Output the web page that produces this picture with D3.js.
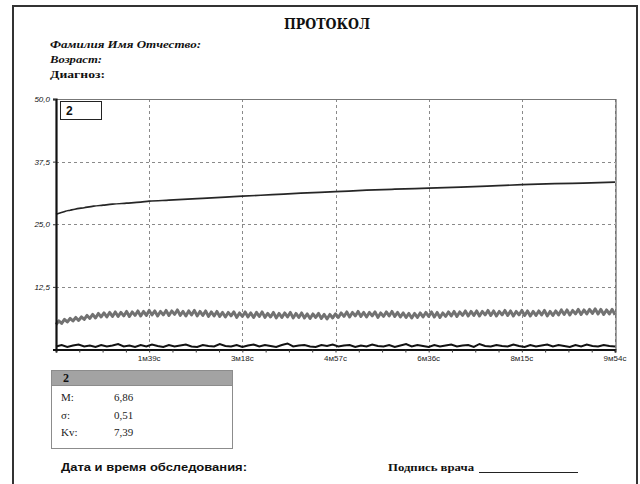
<!DOCTYPE html>
<html>
<head>
<meta charset="utf-8">
<script src="https://cdn.jsdelivr.net/npm/d3@7"></script>
<style>
  html, body { margin: 0; padding: 0; background: #fff; }
  svg { display: block; }
</style>
</head>
<body>
<svg id="chart" width="640" height="484"></svg>
<script>
// ---- data ----
const xDomain = [0, 594];                 // seconds
const yDomain = [0, 50];
const xTickSeconds = [99, 198, 297, 396, 495, 594];
const xTickLabels = ["1м39с", "3м18с", "4м57с", "6м36с", "8м15с", "9м54с"];
const yTickValues = [12.5, 25, 37.5, 50];
const yTickLabels = ["12,5", "25,0", "37,5", "50,0"];

// upper trend curve (time, value)
const trendTimes = [0, 5, 10, 15, 20, 30, 40, 50, 60, 75, 90, 99, 120, 150, 180, 198, 230, 260, 297, 330, 360, 396, 430, 470, 495, 530, 560, 594];
const trendValues = [27.0, 27.3, 27.6, 27.8, 28.0, 28.3, 28.6, 28.8, 29.0, 29.2, 29.4, 29.6, 29.8, 30.1, 30.4, 30.6, 30.9, 31.2, 31.5, 31.8, 32.0, 32.2, 32.4, 32.7, 32.9, 33.1, 33.2, 33.4];

// channel "2" signal, sampled every 3 s
const signalStep = 3;
const signalValues = [
  5.0,5.7,5.2,6.0,5.5,6.2,5.7,6.4,5.8,6.5,
  6.0,6.8,6.2,7.0,6.3,7.2,6.5,7.3,6.5,7.4,
  6.6,7.5,6.6,7.4,6.7,7.6,6.6,7.5,6.8,7.7,
  6.7,7.6,6.8,7.8,6.9,7.7,6.7,7.6,6.9,7.8,
  6.8,7.7,7.0,7.9,6.8,7.6,6.7,7.7,6.9,7.8,
  6.7,7.6,6.8,7.7,6.6,7.5,6.7,7.6,6.6,7.4,
  6.5,7.4,6.7,7.5,6.4,7.3,6.6,7.5,6.5,7.3,
  6.4,7.4,6.6,7.5,6.4,7.2,6.5,7.4,6.3,7.2,
  6.4,7.3,6.5,7.4,6.3,7.2,6.4,7.3,6.3,7.1,
  6.2,7.1,6.4,7.2,6.2,7.0,6.1,7.0,6.3,7.1,
  6.4,7.3,6.6,7.5,6.5,7.4,6.7,7.6,6.6,7.4,
  6.5,7.4,6.7,7.5,6.4,7.3,6.6,7.5,6.7,7.6,
  6.6,7.4,6.5,7.3,6.4,7.2,6.3,7.2,6.4,7.3,
  6.5,7.4,6.6,7.5,6.5,7.4,6.4,7.3,6.6,7.5,
  6.7,7.6,6.6,7.5,6.8,7.7,6.7,7.6,6.8,7.7,
  6.7,7.6,6.9,7.8,6.8,7.7,6.7,7.6,6.9,7.8,
  6.8,7.7,6.7,7.6,6.9,7.8,6.8,7.7,6.7,7.6,
  6.8,7.7,6.9,7.8,6.7,7.6,6.8,7.7,6.9,7.9,
  7.0,7.9,6.9,7.8,7.1,8.0,7.0,7.9,7.1,8.0,
  7.2,8.1,7.1,8.0,7.0,7.9,7.1,8.0,6.9
];

// baseline channel, sampled every 6 s
const baseStep = 6;
const baseValues = [
  0.6,0.9,0.5,0.8,1.0,0.6,0.8,0.5,0.9,0.6,
  0.8,1.1,0.6,0.8,0.5,0.9,0.6,1.0,0.7,0.5,
  0.9,0.6,0.8,1.0,0.6,0.5,0.9,0.7,0.6,1.1,
  0.7,0.6,0.9,0.5,0.8,1.0,0.6,0.9,0.7,0.5,
  0.9,1.2,0.6,0.8,0.9,0.6,0.5,0.9,0.7,1.0,
  0.6,0.8,0.9,0.5,0.8,0.6,1.0,0.7,0.6,0.9,
  0.5,0.8,1.1,0.6,0.9,0.7,0.5,0.9,0.6,0.8,
  1.0,0.6,0.8,0.9,0.5,1.1,0.7,0.6,0.9,0.7,
  0.6,1.0,0.7,0.5,0.9,0.6,0.8,1.0,0.6,0.9,
  0.7,0.5,0.9,0.6,1.0,0.7,0.6,0.9,0.7,0.6
];

const statsTitle = "2";
const statsLabels = ["M:", "σ:", "Kv:"];
const statsValues = ["6,86", "0,51", "7,39"];

// ---- layout ----
const svg = d3.select("#chart");
const plot = { left: 56, right: 615, top: 99, bottom: 349.5 };

const x = d3.scaleLinear().domain(xDomain).range([plot.left, plot.right]);
const y = d3.scaleLinear().domain(yDomain).range([plot.bottom, plot.top]);

// page frame
svg.append("rect")
  .attr("x", 13).attr("y", 6).attr("width", 624).attr("height", 500)
  .attr("fill", "none").attr("stroke", "#333").attr("stroke-width", 2);

// header texts
svg.append("text")
  .attr("x", 327).attr("y", 29).attr("text-anchor", "middle")
  .attr("font-family", "DejaVu Serif").attr("font-weight", "bold").attr("font-size", 14)
  .attr("textLength", 86).attr("lengthAdjust", "spacingAndGlyphs")
  .attr("fill", "#111").text("ПРОТОКОЛ");

const fieldFont = "Liberation Serif";
svg.append("text").attr("x", 50).attr("y", 48)
  .attr("font-family", fieldFont).attr("font-weight", "bold").attr("font-style", "italic")
  .attr("font-size", 11).attr("textLength", 151).attr("lengthAdjust", "spacingAndGlyphs")
  .attr("fill", "#111").text("Фамилия Имя Отчество:");
svg.append("text").attr("x", 50).attr("y", 63)
  .attr("font-family", fieldFont).attr("font-weight", "bold").attr("font-style", "italic")
  .attr("font-size", 11).attr("textLength", 52).attr("lengthAdjust", "spacingAndGlyphs")
  .attr("fill", "#111").text("Возраст:");
svg.append("text").attr("x", 50).attr("y", 78)
  .attr("font-family", fieldFont).attr("font-weight", "bold")
  .attr("font-size", 11).attr("textLength", 55).attr("lengthAdjust", "spacingAndGlyphs")
  .attr("fill", "#111").text("Диагноз:");

// ---- grid ----
const grid = svg.append("g");
grid.selectAll("line.h").data(yTickValues.slice(0, 3)).join("line")
  .attr("x1", plot.left).attr("x2", plot.right)
  .attr("y1", d => Math.round(y(d)) + 0.5).attr("y2", d => Math.round(y(d)) + 0.5)
  .attr("stroke", "#8a8a8a").attr("stroke-dasharray", "3,3");
grid.selectAll("line.v").data(xTickSeconds).join("line")
  .attr("x1", d => Math.round(x(d)) + 0.5).attr("x2", d => Math.round(x(d)) + 0.5)
  .attr("y1", plot.top).attr("y2", plot.bottom)
  .attr("stroke", "#8a8a8a").attr("stroke-dasharray", "3,3");

// top and right borders
svg.append("line").attr("x1", plot.left).attr("x2", plot.right + 1)
  .attr("y1", plot.top + 0.5).attr("y2", plot.top + 0.5).attr("stroke", "#777");
svg.append("line").attr("x1", plot.right + 1).attr("x2", plot.right + 1)
  .attr("y1", plot.top).attr("y2", plot.bottom).attr("stroke", "#666").attr("stroke-width", 1.2);

// ---- series ----
const line = d3.line().x(d => x(d[0])).y(d => y(d[1]));

svg.append("path")
  .datum(signalValues.map((v, i) => [i * signalStep, v]))
  .attr("d", line).attr("fill", "none")
  .attr("stroke", "#727272").attr("stroke-width", 3).attr("stroke-linejoin", "round");

svg.append("path")
  .datum(trendTimes.map((t, i) => [t, trendValues[i]]))
  .attr("d", d3.line().curve(d3.curveMonotoneX).x(d => x(d[0])).y(d => y(d[1])))
  .attr("fill", "none").attr("stroke", "#262626").attr("stroke-width", 1.7);

svg.append("path")
  .datum(baseValues.map((v, i) => [i * baseStep, v]))
  .attr("d", line).attr("fill", "none")
  .attr("stroke", "#111").attr("stroke-width", 2);

// ---- axes ----
const xAxis = d3.axisBottom(x)
  .tickValues(d3.range(0, 595, 24.75))
  .tickSize(3).tickFormat("");
svg.append("g").attr("transform", `translate(0,${plot.bottom})`).call(xAxis)
  .call(g => g.select(".domain").attr("stroke", "#111").attr("stroke-width", 2))
  .call(g => g.selectAll(".tick line").attr("stroke", "#333"));

svg.append("g").selectAll("text").data(xTickSeconds).join("text")
  .attr("x", d => x(d)).attr("y", 361).attr("text-anchor", "middle")
  .attr("font-family", "Liberation Sans").attr("font-size", 8).attr("fill", "#222")
  .text((d, i) => xTickLabels[i]);

const yAxis = d3.axisLeft(y).tickValues(yTickValues).tickSize(3).tickFormat("");
svg.append("g").attr("transform", `translate(${plot.left},0)`).call(yAxis)
  .call(g => g.select(".domain").attr("stroke", "#111").attr("stroke-width", 2.2))
  .call(g => g.selectAll(".tick line").attr("stroke", "#333"));

svg.append("g").selectAll("text").data(yTickValues).join("text")
  .attr("x", 50).attr("y", d => y(d) + 3).attr("text-anchor", "end")
  .attr("font-family", "Liberation Sans").attr("font-style", "italic")
  .attr("font-size", 8).attr("fill", "#111")
  .text((d, i) => yTickLabels[i]);

// channel tag
svg.append("rect").attr("x", 60.5).attr("y", 101.5).attr("width", 41).attr("height", 18)
  .attr("fill", "#fff").attr("stroke", "#222");
svg.append("text").attr("x", 66).attr("y", 115)
  .attr("font-family", "Liberation Sans").attr("font-weight", "bold").attr("font-size", 12)
  .attr("fill", "#111").text("2");

// ---- statistics box ----
const box = svg.append("g");
box.append("rect").attr("x", 51.5).attr("y", 370.5).attr("width", 181).attr("height", 78)
  .attr("fill", "#fff").attr("stroke", "#8c8c8c");
box.append("rect").attr("x", 52).attr("y", 371).attr("width", 180).attr("height", 14)
  .attr("fill", "#a3a3a3");
box.append("line").attr("x1", 52).attr("x2", 232).attr("y1", 385.5).attr("y2", 385.5)
  .attr("stroke", "#8c8c8c");
box.append("text").attr("x", 63).attr("y", 382)
  .attr("font-family", "Liberation Serif").attr("font-weight", "bold").attr("font-size", 12)
  .attr("fill", "#111").text(statsTitle);
box.selectAll("text.lab").data(statsLabels).join("text")
  .attr("x", 61).attr("y", (d, i) => 401 + i * 17.5)
  .attr("font-family", "Liberation Serif").attr("font-size", 11).attr("fill", "#222")
  .text(d => d);
box.selectAll("text.val").data(statsValues).join("text")
  .attr("x", 114).attr("y", (d, i) => 401 + i * 17.5)
  .attr("font-family", "Liberation Serif").attr("font-size", 11).attr("fill", "#222")
  .text(d => d);

// ---- footer ----
svg.append("text").attr("x", 61).attr("y", 471)
  .attr("font-family", "Liberation Sans").attr("font-weight", "bold").attr("font-size", 11)
  .attr("textLength", 186).attr("lengthAdjust", "spacingAndGlyphs")
  .attr("fill", "#111").text("Дата и время обследования:");
svg.append("text").attr("x", 388).attr("y", 471)
  .attr("font-family", "Liberation Serif").attr("font-weight", "bold").attr("font-size", 10)
  .attr("textLength", 86).attr("lengthAdjust", "spacingAndGlyphs")
  .attr("fill", "#111").text("Подпись врача");
svg.append("line").attr("x1", 479).attr("x2", 578).attr("y1", 472.5).attr("y2", 472.5)
  .attr("stroke", "#222");
</script>
</body>
</html>
